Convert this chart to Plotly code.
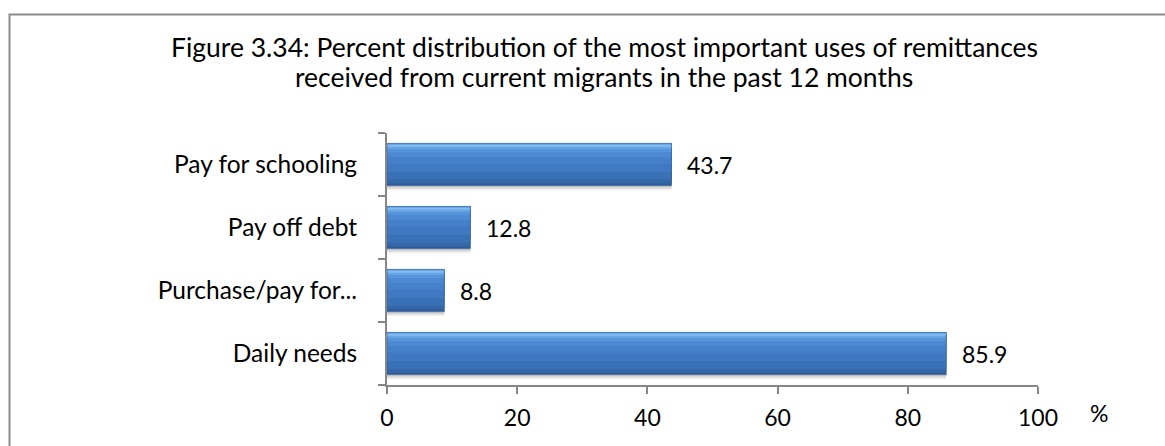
import plotly.graph_objects as go

# Uses of remittances, listed bottom-to-top as drawn on the category axis
categories = ["Daily needs", "Purchase/pay for...", "Pay off debt", "Pay for schooling"]
percent = [85.9, 8.8, 12.8, 43.7]
x_ticks = [0, 20, 40, 60, 80, 100]

title_lines = [
    "Figure 3.34: Percent distribution of the most important uses of remittances",
    "received from current migrants in the past 12 months",
]

FONT = "Lato"
AXIS_GREY = "#868686"
TEXT_SIZE = 23

# plot area geometry (pixels) used to place the frame and text in paper units
W, H = 1165, 446
L, R, T, B = 387, 127, 133, 61
PW, PH = W - L - R, H - T - B


def px_x(px):
    return (px - L) / PW


def px_y(py):
    return (H - B - py) / PH


BAR_W = 0.67
# vertical shading of the bars: each layer runs from its start fraction
# (measured from the bar's bottom edge) up to the top of the bar
shade_layers = [
    (0.00, "#2c5c98"),
    (0.05, "#3468a8"),
    (0.14, "#3a70b5"),
    (0.32, "#4078c1"),
    (0.52, "#4680ca"),
    (0.68, "#4c89d2"),
    (0.79, "#5695db"),
    (0.87, "#66a4e5"),
    (0.92, "#84bcf1"),
    (0.965, "#6ba5e4"),
]

fig = go.Figure()

# soft drop shadow beneath each bar
for drop, alpha in [(0.075, 0.06), (0.05, 0.08), (0.025, 0.10)]:
    fig.add_trace(go.Bar(
        x=percent, y=categories, orientation="h",
        width=BAR_W, offset=-BAR_W / 2 - drop,
        marker=dict(color=f"rgba(0,0,0,{alpha})", line=dict(width=0)),
        hoverinfo="skip", showlegend=False,
    ))

for start, colour in shade_layers:
    fig.add_trace(go.Bar(
        x=percent, y=categories, orientation="h",
        width=BAR_W * (1 - start), offset=-BAR_W / 2 + BAR_W * start,
        marker=dict(color=colour, line=dict(width=0)),
        hoverinfo="skip", showlegend=False,
    ))

# invisible overlay carrying the hover text
fig.add_trace(go.Bar(
    x=percent, y=categories, orientation="h",
    width=BAR_W, offset=-BAR_W / 2,
    marker=dict(color="rgba(0,0,0,0)", line=dict(width=0.6, color="#2f5f9a")),
    hovertemplate="%{y}: %{x}<extra></extra>", showlegend=False,
))

annotations = []
for cat, val in zip(categories, percent):
    annotations.append(dict(
        x=val, y=cat, xref="x", yref="y", text=f"{val:.1f}",
        showarrow=False, xanchor="left", yanchor="middle", xshift=14,
        font=dict(family=FONT, size=TEXT_SIZE, color="#000000"),
    ))

for i, line in enumerate(title_lines):
    annotations.append(dict(
        x=px_x(604), y=px_y(47 + 30 * i), xref="paper", yref="paper",
        text=line, showarrow=False, xanchor="center", yanchor="middle",
        font=dict(family=FONT, size=26.5, color="#000000"),
    ))

annotations.append(dict(
    x=px_x(1099), y=px_y(413), xref="paper", yref="paper", text="%",
    showarrow=False, xanchor="center", yanchor="middle",
    font=dict(family=FONT, size=TEXT_SIZE, color="#000000"),
))

fig.update_layout(
    width=W, height=H,
    margin=dict(l=L, r=R, t=T, b=B, autoexpand=False),
    paper_bgcolor="white", plot_bgcolor="white",
    barmode="overlay", bargap=0.33,
    showlegend=False,
    annotations=annotations,
    shapes=[dict(
        type="rect", xref="paper", yref="paper",
        x0=px_x(9.5), x1=px_x(1180), y0=px_y(14.5), y1=px_y(470),
        line=dict(color="#8c8c8c", width=2), fillcolor="rgba(0,0,0,0)",
        layer="below",
    )],
    xaxis=dict(
        range=[0, 100], tickvals=x_ticks, ticktext=[str(t) for t in x_ticks],
        showgrid=False, zeroline=False,
        showline=True, linecolor=AXIS_GREY, linewidth=2,
        ticks="outside", ticklen=7, tickwidth=2, tickcolor=AXIS_GREY,
        tickfont=dict(family=FONT, size=TEXT_SIZE, color="#000000"),
        ticklabelstandoff=4, fixedrange=True,
    ),
    yaxis=dict(
        type="category", categoryorder="array", categoryarray=categories,
        range=[-0.5, 3.5],
        showgrid=False, zeroline=False,
        showline=True, linecolor=AXIS_GREY, linewidth=2,
        ticks="outside", tickson="boundaries", ticklen=7, tickwidth=2,
        tickcolor=AXIS_GREY,
        tickfont=dict(family=FONT, size=24.5, color="#000000"),
        ticklabelstandoff=23, fixedrange=True,
    ),
)

fig.write_html("out.html")
